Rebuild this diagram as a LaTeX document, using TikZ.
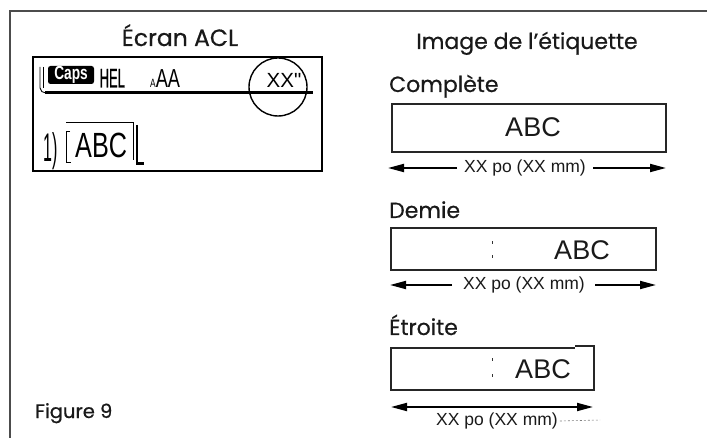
\documentclass[tikz,border=0pt]{standalone}
\usepackage{fontspec}
\setmainfont{Poppins}[FakeBold=0.6]
\newfontfamily\arial{Liberation Sans}
\newfontfamily\lcdbold{Liberation Sans}[FakeBold=1.2]
\usetikzlibrary{arrows.meta}
\begin{document}
\begin{tikzpicture}[x=1pt,y=-1pt,
  heading/.style={font=\fontsize{22}{24}\selectfont, text=black!90, inner sep=0},
  lbl/.style={font=\arial\fontsize{27}{29}\selectfont, text=black!90, inner sep=0},
  dim/.style={font=\arial\fontsize{17.5}{19}\selectfont, text=black!90, inner sep=0},
  lcd/.style={font=\arial, inner sep=0},
  tape/.style={draw=black!85, line width=2.2pt},
  arr/.style={line width=1.9pt, -{Triangle[length=16pt,width=8pt]}},
  dot/.style={fill=black!80}]
\useasboundingbox (0,0) rectangle (707,438);
% frame
\draw[black!70, line width=1.3pt] (10,438) -- (10,11) -- (707,11);
% LCD title
\node[heading, anchor=base, font=\fontsize{23.5}{25}\selectfont] (lcdtitle) at (180,46) {Écran ACL};
% LCD box
\draw[line width=2.2pt] (33,57) rectangle (322,171);
\draw[line width=0.9pt] (40,67) -- (40,88) to[out=-90,in=180] (46,93);
\draw[line width=0.9pt] (43.5,67) -- (43.5,88);
\draw[line width=2.6pt] (45,92.5) -- (313,92.5);
\node[fill=black, rounded corners=2.5pt, text=white, minimum width=46pt, minimum height=18pt, inner sep=0,
  font=\arial\bfseries\fontsize{19}{19}\selectfont] (caps) at (71,75) {\scalebox{0.72}[1]{Caps}};
\node[lcd, anchor=base west, font=\lcdbold\fontsize{27}{27}\selectfont] (hel) at (99.5,87.5) {\scalebox{0.48}[1]{HEL}};
\node[lcd, anchor=base west] (aaa) at (150,87.5) {\scalebox{0.7}[1]{{\fontsize{12}{12}\selectfont A}{\fontsize{26}{26}\selectfont A}{\fontsize{26}{26}\selectfont A}}};
\node[lcd, anchor=base, font=\arial\fontsize{20.5}{21}\selectfont] (xx) at (284,88) {XX"};
\draw[line width=1.4pt] (278,87) circle (29);
% second line
\node[lcd, anchor=base west, font=\arial\fontsize{40}{40}\selectfont] (one) at (43,162) {\scalebox{0.4}[1]{1)}};
\draw[line width=0.9pt] (70,131) -- (66,131) -- (66,162) -- (71,162);
\draw[line width=0.9pt] (66,122) -- (133,122) -- (133,160);
\draw[line width=2.2pt] (137,125) -- (137,163.5) -- (143.5,163.5);
\node[lcd, anchor=base west, font=\arial\fontsize{35}{35}\selectfont] (abc0) at (75,158) {\scalebox{0.72}[1]{ABC}};
% Right side
\node[heading, anchor=base] (imgtitle) at (527,49) {Image de l{\char"27}étiquette};
% Complete
\node[heading, anchor=base west] (compl) at (389,92) {Complète};
\draw[tape] (392,104) rectangle (666,152);
\node[lbl] (abc1) at (533,127) {ABC};
\node[dim] (d1) at (525,168) {XX po (XX mm)};
\coordinate (l1) at (457,168);
\coordinate (r1) at (593,168);
\draw[arr] (l1) -- (388,168);
\draw[arr] (r1) -- (666,168);
% Demie
\node[heading, anchor=base west] (demie) at (389,218) {Demie};
\draw[tape] (391,228) rectangle (656,270);
\fill[dot] (491.5,241) rectangle +(1.6,2.6);
\fill[dot] (491.5,255) rectangle +(1.6,2.6);
\node[lbl] (abc2) at (582,250) {ABC};
\node[dim] (d2) at (524,285) {XX po (XX mm)};
\coordinate (l2) at (452,285);
\coordinate (r2) at (595,285);
\draw[arr] (l2) -- (390,285);
\draw[arr] (r2) -- (656,285);
% Etroite
\node[heading, anchor=base west] (etr) at (389,335) {Étroite};
\draw[tape] (575,346) -- (594,346) -- (594,390) -- (391,390) -- (391,348) -- (575,348);
\fill[dot] (491.5,358) rectangle +(1.6,2.6);
\fill[dot] (491.5,374) rectangle +(1.6,2.6);
\node[lbl] (abc3) at (543,369) {ABC};
\coordinate (l3) at (391,407);
\coordinate (r3) at (593,407);
\draw[line width=1.9pt, {Triangle[length=16pt,width=8pt]}-{Triangle[length=16pt,width=8pt]}] (l3) -- (r3);
\node[dim] (d3) at (497,421) {XX po (XX mm)};
\draw[black!50, line width=0.6pt, dash pattern=on 2pt off 2pt] (d3.east) ++(2,0) -- (600,420);
% figure label
\node[heading, anchor=base west, font=\fontsize{19.5}{21}\selectfont] (fig) at (35,418) {Figure 9};
\end{tikzpicture}
\end{document}
